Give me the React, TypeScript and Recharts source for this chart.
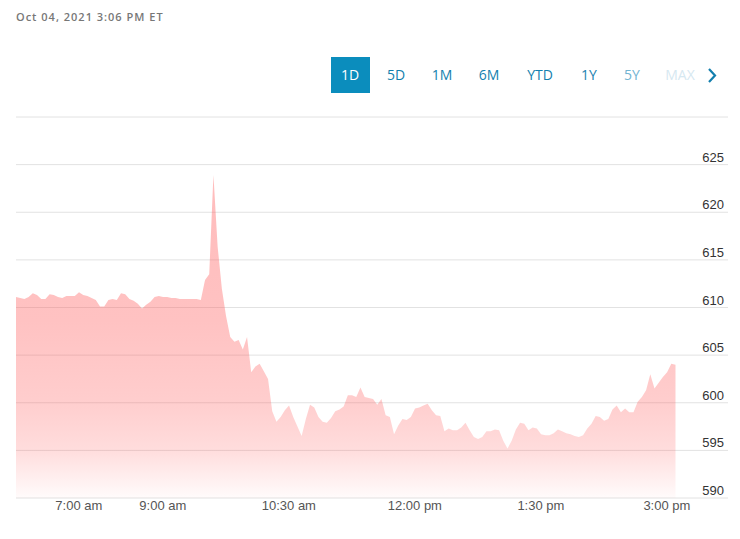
import { Area, AreaChart, CartesianGrid, XAxis, YAxis } from "recharts";

// pre-market quotes, one every 6 min from 5:36 am to 9:00 am
const preMarket = [
  611.1, 611.0, 610.9, 611.1, 611.5, 611.3, 610.9, 610.9, 611.4, 611.3,
  611.1, 611.0, 611.2, 611.2, 611.2, 611.6, 611.3, 611.2, 611.0, 610.8,
  610.1, 610.1, 610.8, 610.9, 610.8, 611.5, 611.4, 610.9, 610.7, 610.4,
  609.9, 610.3, 610.6, 611.1, 611.2, 611.1,
];

// quotes every 3 min from 9:03 am to 3:06 pm
const session = [
  611.1, 611.0, 611.0, 610.9, 610.9, 610.9, 610.9, 610.9, 610.8,
  612.9, 613.5, 623.9,
  616.4, 612.0, 609.1, 606.9, 606.4, 606.6, 605.6, 606.9, 603.2, 603.8, 604.1, 603.3, 602.5,
  599.1, 598.0, 598.5, 599.2, 599.7, 598.5, 597.5, 596.5, 598.3, 599.8,
  599.5, 598.5, 598.0, 597.9, 598.4, 599.1, 599.3, 599.6, 600.8, 600.8,
  600.6, 601.6, 600.6, 600.5, 600.4, 599.8, 600.4, 598.7, 598.5, 596.7,
  597.6, 598.3, 598.2, 598.5, 599.4, 599.5, 599.7, 599.9, 599.2, 598.7,
  598.6, 597.0, 597.3, 597.1, 597.1, 597.4, 597.9, 597.1, 596.4, 596.2,
  596.4, 597.0, 597.0, 597.2, 597.1, 596.0, 595.2, 596.0, 597.2, 597.9,
  597.8, 597.1, 597.4, 597.3, 596.7, 596.6, 596.6, 596.8, 597.2, 597.0,
  596.8, 596.7, 596.5, 596.4, 596.6, 597.3, 597.8, 598.6, 598.5, 598.1,
  598.3, 599.3, 599.7, 599.0, 599.4, 599.0, 599.0, 600.1, 600.6, 601.3,
  603.0, 601.5, 602.1, 602.7, 603.2, 604.1, 604.0,
];

const PRE_START = 5 * 60 + 36; // 5:36 am
const SESSION_START = 9 * 60; // 9:00 am

const tickMinutes = [420, 540, 630, 720, 810, 900];
const tickLabels = ["7:00 am", "9:00 am", "10:30 am", "12:00 pm", "1:30 pm", "3:00 pm"];
const priceTicks = [590, 595, 600, 605, 610, 615, 620, 625, 630];
const ranges = ["1D", "5D", "1M", "6M", "YTD", "1Y", "5Y", "MAX"];

const timeToIndex = (m: number) =>
  m <= SESSION_START
    ? (m - PRE_START) / 6
    : (SESSION_START - PRE_START) / 6 + (m - SESSION_START) / 3;

const data = [...preMarket, ...session].map((price, i) => ({ i, price }));
const xTicks = tickMinutes.map(timeToIndex);

const axisFont = "'Liberation Sans', Arial, sans-serif";

function PriceTick({ x, y, payload }: any) {
  if (payload.value === 630) return null;
  return (
    <text x={x + 4} y={y - 3} textAnchor="end" fontSize={13} fill="#333" fontFamily={axisFont}>
      {payload.value}
    </text>
  );
}

function TimeTick({ x, y, payload }: any) {
  return (
    <text x={x + 4} y={y + 4} textAnchor="middle" fontSize={13} fill="#555" fontFamily={axisFont}>
      {tickLabels[xTicks.indexOf(payload.value)] ?? ""}
    </text>
  );
}

const rangeX = [350, 396, 442, 489, 540, 589, 632, 680];
const rangeColor = ["#fff", "#137fae", "#137fae", "#137fae", "#137fae", "#1a82b0", "#72b4d2", "#d6e8f1"];

export default function App() {
  return (
    <div
      style={{
        position: "absolute",
        left: 0,
        top: 0,
        width: 740,
        height: 539,
        background: "#fff",
        fontFamily: "'Open Sans', sans-serif",
      }}
    >
      <div
        style={{
          position: "absolute",
          left: 16,
          top: 9,
          fontSize: 11,
          letterSpacing: 1,
          color: "#777",
          fontWeight: 600,
          whiteSpace: "nowrap",
        }}
      >
        Oct 04, 2021 3:06 PM ET
      </div>
      <div
        style={{
          position: "absolute",
          left: 331,
          top: 57,
          width: 39,
          height: 36,
          background: "#0b8dbd",
        }}
      />
      {ranges.map((r, k) => (
        <div
          key={r}
          style={{
            position: "absolute",
            left: rangeX[k] - 25,
            width: 50,
            top: 65,
            textAlign: "center",
            fontSize: 14,
            fontWeight: 500,
            color: rangeColor[k],
            lineHeight: "20px",
          }}
        >
          {r}
        </div>
      ))}
      <svg style={{ position: "absolute", left: 706, top: 68 }} width={12} height={16}>
        <polyline points="3,1 9,7.5 3,14" fill="none" stroke="#137fae" strokeWidth={2.2} />
      </svg>
      <div style={{ position: "absolute", left: 0, top: 0 }}>
        <AreaChart
          width={740}
          height={539}
          data={data}
          margin={{ top: 117, right: 12, bottom: 11, left: 16 }}
        >
          <defs>
            <linearGradient id="priceFill" x1="0" y1="0" x2="0" y2="1">
              <stop offset="0" stopColor="#ff6060" stopOpacity={0.7} />
              <stop offset="0.45" stopColor="#ff6060" stopOpacity={0.64} />
              <stop offset="0.7" stopColor="#ff6060" stopOpacity={0.52} />
              <stop offset="0.85" stopColor="#ff6060" stopOpacity={0.36} />
              <stop offset="1" stopColor="#ff6060" stopOpacity={0.04} />
            </linearGradient>
          </defs>
          <CartesianGrid horizontal vertical={false} stroke="#e2e2e2" />
          <XAxis
            type="number"
            dataKey="i"
            domain={[0, 169.5]}
            ticks={xTicks}
            axisLine={false}
            tickLine={false}
            height={30}
            tick={<TimeTick />}
          />
          <YAxis
            orientation="right"
            mirror
            domain={[590, 630]}
            ticks={priceTicks}
            axisLine={false}
            tickLine={false}
            tick={<PriceTick />}
          />
          <Area
            type="linear"
            dataKey="price"
            stroke="none"
            fill="url(#priceFill)"
            isAnimationActive={false}
            dot={false}
            activeDot={false}
          />
        </AreaChart>
      </div>
    </div>
  );
}
